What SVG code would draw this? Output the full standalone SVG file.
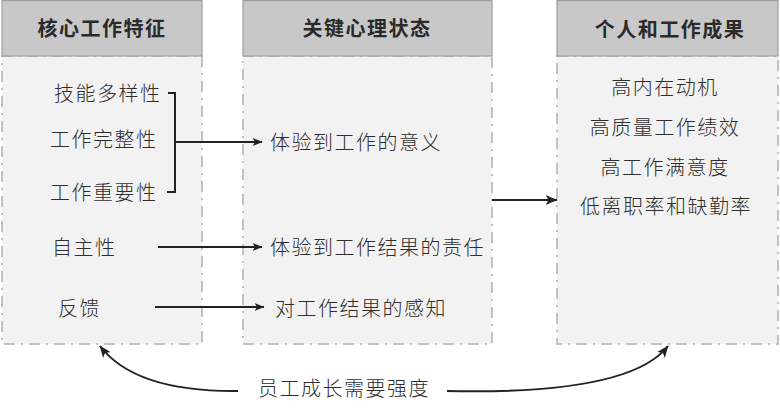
<svg xmlns="http://www.w3.org/2000/svg" width="780" height="409" viewBox="0 0 780 409">
<defs>
<marker id="ah" viewBox="0 0 10 8" refX="9.5" refY="4" markerWidth="10" markerHeight="8" markerUnits="userSpaceOnUse" orient="auto">
<path d="M0,0 L10,4 L0,8 L2.5,4 z" fill="#222"/>
</marker>
<marker id="ahb" viewBox="0 0 10 8" refX="9.5" refY="4" markerWidth="12" markerHeight="10" markerUnits="userSpaceOnUse" orient="auto">
<path d="M0,0 L10,4 L0,8 L2.5,4 z" fill="#222"/>
</marker>
</defs>
<style>
.hdr{fill:#c8c8c8;stroke:#9e9e9e;stroke-width:1.2}
.body{fill:#f2f2f2;stroke:#c2c2c2;stroke-width:2;stroke-dasharray:11 6 2 6}
.ht{font-family:"Noto Sans CJK SC","Noto Sans",sans-serif;font-size:20px;font-weight:bold;fill:#2a2a2a;text-anchor:middle;letter-spacing:1.5px}
.t{font-family:"Noto Sans CJK SC","Noto Sans",sans-serif;font-size:20px;font-weight:300;fill:#2e2e2e;letter-spacing:1.5px}
.tm{text-anchor:middle}
.ln{fill:none;stroke:#222;stroke-width:2}
</style>
<rect width="780" height="409" fill="#fff"/>
<g id="node-core">
<rect class="body" x="2" y="56" width="200" height="288"/>
<rect class="hdr" x="2" y="0.6" width="200" height="55.4"/>
<text class="ht" x="102" y="36">核心工作特征</text>
<text class="t" x="54" y="101">技能多样性</text>
<text class="t" x="50" y="147">工作完整性</text>
<text class="t" x="50" y="200">工作重要性</text>
<text class="t" x="52" y="255">自主性</text>
<text class="t" x="58" y="316">反馈</text>
</g>
<g id="node-state">
<rect class="body" x="243" y="56" width="249" height="288"/>
<rect class="hdr" x="243" y="0.6" width="249" height="55.4"/>
<text class="ht" x="367" y="36">关键心理状态</text>
<text class="t" x="270" y="150">体验到工作的意义</text>
<text class="t" x="270" y="255">体验到工作结果的责任</text>
<text class="t" x="275" y="316">对工作结果的感知</text>
</g>
<g id="node-result">
<rect class="body" x="557" y="56" width="221" height="288"/>
<rect class="hdr" x="557" y="0.6" width="221" height="55.4"/>
<text class="ht" x="670" y="37">个人和工作成果</text>
<text class="t tm" x="665" y="95">高内在动机</text>
<text class="t tm" x="665" y="135">高质量工作绩效</text>
<text class="t tm" x="665" y="175">高工作满意度</text>
<text class="t tm" x="666" y="214">低离职率和缺勤率</text>
</g>
<g id="node-growth">
<text class="t" x="258" y="396">员工成长需要强度</text>
</g>
<g id="connectors">
<path class="ln" d="M168,93 H175 V192 H167"/>
<path class="ln" d="M175,142 H262" marker-end="url(#ah)"/>
<path class="ln" d="M158,247 H262" marker-end="url(#ah)"/>
<path class="ln" d="M155,307 H264" marker-end="url(#ah)"/>
<path class="ln" d="M492,200 H557" stroke-width="3" marker-end="url(#ahb)"/>
<path class="ln" d="M238,391 Q135,392 100,346" stroke-width="2.4" marker-end="url(#ahb)"/>
<path class="ln" d="M447,391 Q630,395 668,346" stroke-width="2.4" marker-end="url(#ahb)"/>
</g>
</svg>
